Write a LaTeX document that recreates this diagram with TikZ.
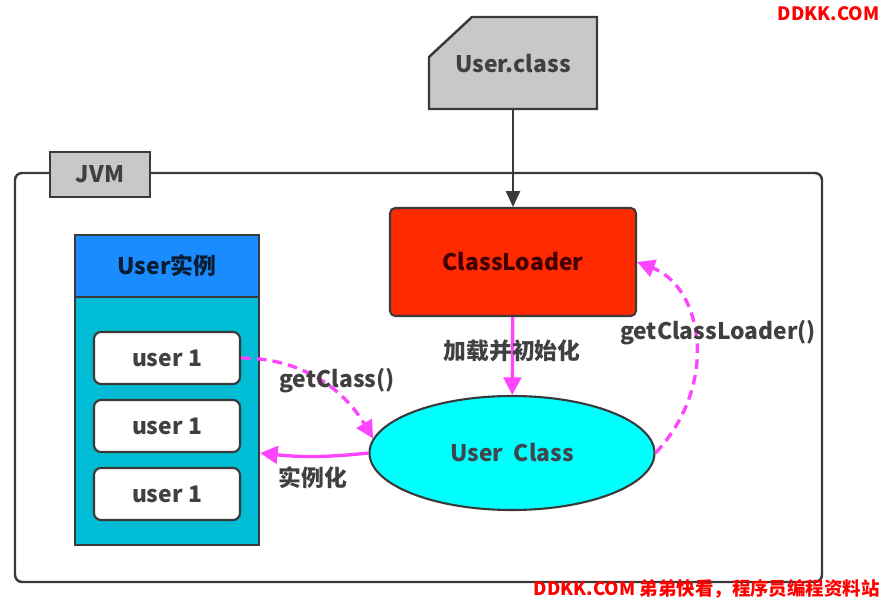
\documentclass[tikz,border=0pt]{standalone}
\usepackage{fontspec}
\setmainfont{Noto Sans CJK SC}
\usetikzlibrary{arrows.meta,shapes.geometric}
\definecolor{textgray}{HTML}{404040}
\definecolor{framegray}{HTML}{3A3A3A}
\definecolor{boxgray}{HTML}{C8C8C8}
\definecolor{loaderred}{HTML}{FF2A00}
\definecolor{headblue}{HTML}{1A8CFF}
\definecolor{bodyteal}{HTML}{00BCD4}
\definecolor{classcyan}{HTML}{00FFFF}
\definecolor{callpink}{HTML}{FF44FF}
\definecolor{markred}{HTML}{FF0000}

\begin{document}
\begin{tikzpicture}[x=0.02cm,y=-0.02cm,
    every node/.style={font=\fontsize{13}{15}\selectfont\bfseries,text=textgray},
    userbox/.style={draw=framegray,line width=1.2pt,fill=white,rounded corners=4pt,minimum width=146*0.02cm,minimum height=52*0.02cm},
    pinkarrow/.style={draw=callpink,line width=1.9pt,-{Triangle[length=10pt,width=10pt]}},
    pinkdash/.style={pinkarrow,dash pattern=on 5.5pt off 3.5pt},
    watermark/.style={font=\fontsize{10.5}{12}\selectfont\bfseries,text=markred,inner sep=0pt,anchor=east}]
    \pgfmathsetmacro{\framewidth}{1.4}
    \pgfmathsetmacro{\boxwidth}{1.2}
    \useasboundingbox (0,0) rectangle (883,599);
    \fill[white] (0,0) rectangle (883,599);
    % JVM frame and its tab
    \draw[line width=\framewidth pt,draw=framegray,rounded corners=4pt] (15,173) rectangle (822,582);
    \node[draw=framegray,fill=boxgray,line width=\framewidth pt,minimum width=100*0.02cm,minimum height=45*0.02cm] (jvm) at (100,174.5) {JVM};
    % class file with cut corner
    \draw[line width=\framewidth pt,draw=framegray,fill=boxgray] (429,57) -- (472,17) -- (597,17) -- (597,109) -- (429,109) -- cycle;
    \node[minimum width=168*0.02cm,minimum height=92*0.02cm] (file) at (513,64) {User.class};
    \node[draw=framegray,fill=loaderred,line width=\boxwidth pt,rounded corners=3pt,minimum width=246*0.02cm,minimum height=108*0.02cm,text=black!75!red] (loader) at (513,262) {ClassLoader};
    \draw[line width=\boxwidth pt,draw=framegray,-{Triangle[length=9pt,width=8pt]}] (file) -- (loader);
    % instances
    \node[draw=framegray,fill=bodyteal,line width=\boxwidth pt,minimum width=184*0.02cm,minimum height=310*0.02cm] (panel) at (167,390) {};
    \node[draw=framegray,fill=headblue,line width=\boxwidth pt,minimum width=184*0.02cm,minimum height=62*0.02cm,text=black!80!headblue] (head) at (167,266) {User实例};
    \node[userbox] (u1) at (167,358) {user 1};
    \node[userbox] (u2) at (167,426) {user 1};
    \node[userbox] (u3) at (167,494) {user 1};
    \node[ellipse,draw=framegray,fill=classcyan,line width=\boxwidth pt,minimum width=285*0.02cm,minimum height=114*0.02cm,text=black!80!cyan] (uc) at (512,453) {User\ \ Class};
    % calls
    \draw[pinkarrow] (loader) -- (uc);
    \node (loadlabel) at (512,351) {加载并初始化};
    \draw[pinkdash] (u1.east) .. controls +(60,0) and +(-30,-50) .. (uc.174);
    \node (getclass) at (337,381) {getClass()};
    \draw[pinkarrow] (uc.west) to[bend left=6] (panel.east |- uc.west);
    \node (newinst) at (313,478) {实例化};
    \draw[pinkdash] (uc.east) .. controls +(65,-70) and +(65,25) .. (loader.east);
    \node (getloader) at (718,333) {getClassLoader()};
    % watermarks
    \node[watermark] (marktop) at (880,14) {DDKK.COM};
    \node[watermark] (markbottom) at (880,589) {DDKK.COM 弟弟快看，程序员编程资料站};
\end{tikzpicture}
\end{document}
